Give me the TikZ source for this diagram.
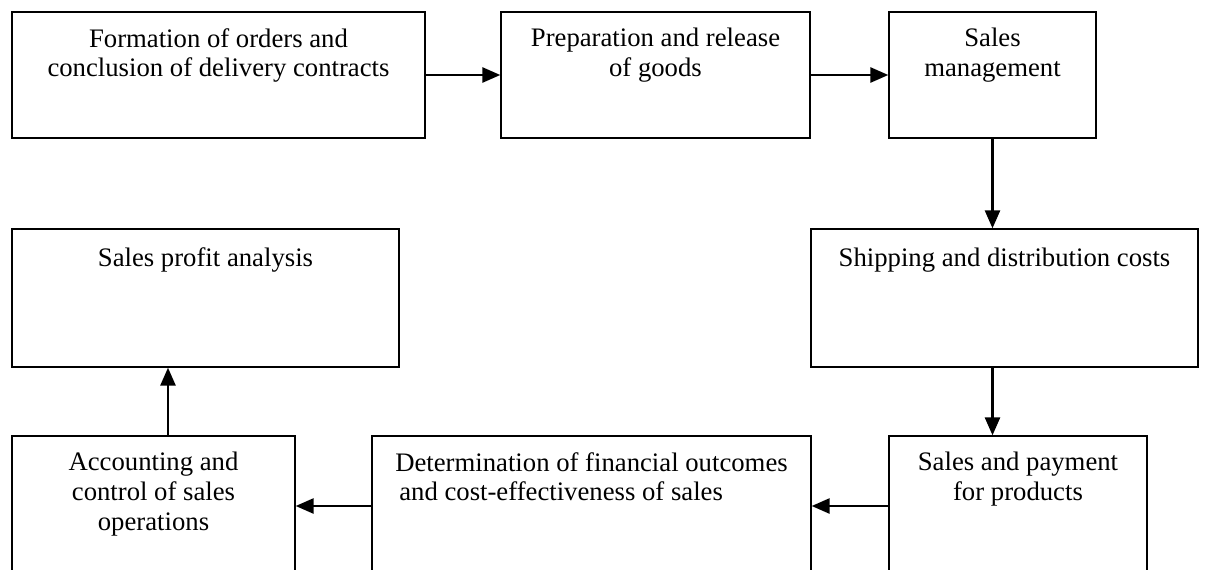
\documentclass[tikz,border=0pt]{standalone}
\usepackage{fontspec}
\setmainfont{Liberation Serif}
\usetikzlibrary{positioning,arrows.meta}

\begin{document}
\begin{tikzpicture}[box/.style={draw, line width=0.75pt, inner sep=0pt},
    txt/.style={inner sep=0pt, align=center, font=\fontsize{15.2}{17}\selectfont, execute at begin node=\strut},
    arr/.style={line width=1.5pt, -{Triangle[length=0.36cm,width=0.3cm]}}]
			\useasboundingbox (0,0) rectangle (24.12,-11.4);
			% top row
			\node (orders) at (4.37,-1.5) [box, minimum width=8.26cm, minimum height=2.52cm] {};
			\node (ordersT) [txt, below=0.33cm of orders.north] {Formation of orders and\\conclusion of delivery contracts};
			\node (goods) at (13.11,-1.5) [box, minimum width=6.18cm, minimum height=2.52cm] {};
			\node (goodsT) [txt, below=0.33cm of goods.north] {Preparation and release\\of goods};
			\node (mgmt) at (19.85,-1.5) [box, minimum width=4.14cm, minimum height=2.52cm] {};
			\node (mgmtT) [txt, below=0.33cm of mgmt.north] {Sales\\management};
			\draw      [arr] (orders) -- (goods);
			\draw      [arr] (goods) -- (mgmt);
			% middle row
			\node (shipping) at (20.09,-5.96) [box, minimum width=7.74cm, minimum height=2.76cm] {};
			\node (shippingT) [txt, below=0.33cm of shipping.north] {Shipping and distribution costs};
			\node (profit) at (4.11,-5.96) [box, minimum width=7.74cm, minimum height=2.76cm] {};
			\node (profitT) [txt, below=0.33cm of profit.north] {Sales profit analysis};
			\draw      [arr] (mgmt) -- (mgmt |- shipping.north);
			% bottom row
			\node (payment) at (20.36,-10.12) [box, minimum width=5.16cm, minimum height=2.8cm] {};
			\node (paymentT) [txt, below=0.33cm of payment.north] {Sales and payment\\for products};
			\node (determ) at (11.83,-10.12) [box, minimum width=8.78cm, minimum height=2.8cm] {};
			\node (determT) [txt, align=left, below=0.33cm of determ.north] {Determination of financial outcomes\\\hspace{0.08cm}and cost-effectiveness of sales};
			\node (account) at (3.07,-10.12) [box, minimum width=5.66cm, minimum height=2.8cm] {};
			\node (accountT) [txt, below=0.33cm of account.north] {Accounting and\\control of sales\\operations};
			\draw      [arr] (shipping.south -| mgmt) -- (payment.north -| mgmt);
			\draw      [arr] (payment) -- (determ);
			\draw      [arr] (determ) -- (account);
			\draw      [arr] ([xshift=0.29cm]account.north) -- ([xshift=0.29cm]account.north |- profit.south);
		\end{tikzpicture}
\end{document}
